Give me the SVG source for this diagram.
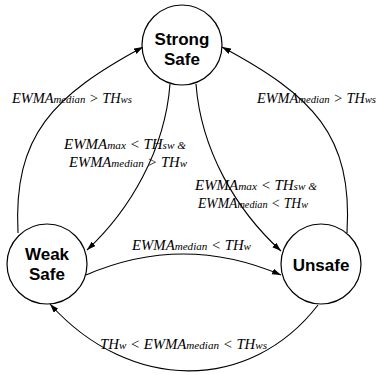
<svg xmlns="http://www.w3.org/2000/svg" width="379" height="375" viewBox="0 0 379 375">
<style>
.node{fill:#fff;stroke:#000;stroke-width:1.2}
.nt{font-family:"Liberation Sans",Arial,sans-serif;font-weight:bold;font-size:17px;fill:#000;text-anchor:middle}
.edge{fill:none;stroke:#000;stroke-width:1.1}
.s{font-size:10.5px}
</style>
<defs>
<marker id="ah" markerWidth="9" markerHeight="7" refX="9" refY="3" orient="auto" markerUnits="userSpaceOnUse">
<path d="M0,0 L9,3 L0,6 z" fill="#000"/>
</marker>
</defs>
<rect width="379" height="375" fill="#fff"/>
<g id="connectors">
<path class="edge" d="M18,233 C13,135 53.5,95.5 143,47" marker-end="url(#ah)"/>
<path class="edge" d="M347,233 C353,135 312.5,95.5 222,47" marker-end="url(#ah)"/>
<path class="edge" d="M170,84 C165,150 130,210 87,250" marker-end="url(#ah)"/>
<path class="edge" d="M196,84 C201,150 236,210 281,251" marker-end="url(#ah)"/>
<path class="edge" d="M86,275 Q183,233 281,275" marker-end="url(#ah)"/>
<path class="edge" d="M318,305 C250,393 130,393 50,304" marker-end="url(#ah)"/>
</g>
<g id="labels" font-family="'Liberation Serif', 'Times New Roman', serif" font-style="italic" font-size="14" fill="#000">
<text x="12" y="103" textLength="120" lengthAdjust="spacingAndGlyphs">EWMA<tspan class="s">median</tspan> &gt; TH<tspan class="s">ws</tspan></text>
<text x="64" y="149" textLength="122" lengthAdjust="spacingAndGlyphs">EWMA<tspan class="s">max</tspan> &lt; TH<tspan class="s">sw  &amp;</tspan></text>
<text x="69" y="167" textLength="118" lengthAdjust="spacingAndGlyphs">EWMA<tspan class="s">median</tspan> &gt; TH<tspan class="s">w</tspan></text>
<text x="257" y="103" textLength="119" lengthAdjust="spacingAndGlyphs">EWMA<tspan class="s">median</tspan> &gt; TH<tspan class="s">ws</tspan></text>
<text x="195" y="190" textLength="122" lengthAdjust="spacingAndGlyphs">EWMA<tspan class="s">max</tspan> &lt; TH<tspan class="s">sw  &amp;</tspan></text>
<text x="198" y="208" textLength="110" lengthAdjust="spacingAndGlyphs">EWMA<tspan class="s">median</tspan> &lt; TH<tspan class="s">w</tspan></text>
<text x="132" y="250" textLength="119" lengthAdjust="spacingAndGlyphs">EWMA<tspan class="s">median</tspan> &lt; TH<tspan class="s">w</tspan></text>
<text x="100" y="349" textLength="167" lengthAdjust="spacingAndGlyphs">TH<tspan class="s">w</tspan> &lt; EWMA<tspan class="s">median</tspan>  &lt; TH<tspan class="s">ws</tspan></text>
</g>
<g id="strong-safe">
<circle class="node" cx="182" cy="45" r="40"/>
<text class="nt" x="182" y="45">Strong</text>
<text class="nt" x="182" y="65">Safe</text>
</g>
<g id="weak-safe">
<circle class="node" cx="47" cy="264" r="40"/>
<text class="nt" x="47" y="260">Weak</text>
<text class="nt" x="47" y="280">Safe</text>
</g>
<g id="unsafe">
<circle class="node" cx="321" cy="264" r="40"/>
<text class="nt" x="321" y="271">Unsafe</text>
</g>
</svg>
